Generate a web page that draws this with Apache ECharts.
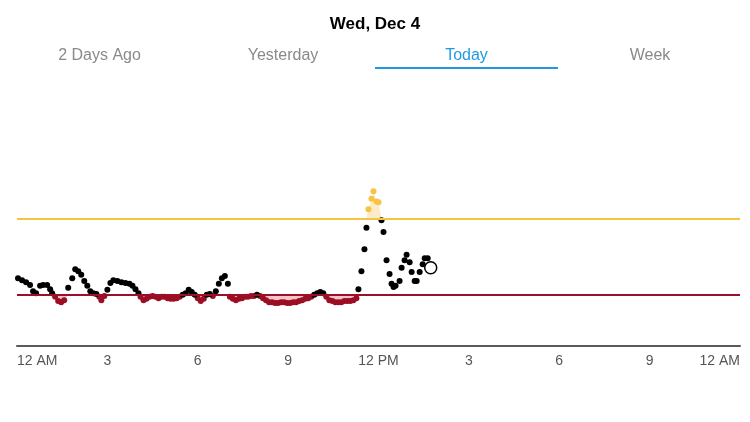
<!DOCTYPE html>
<html>
<head>
<meta charset="utf-8">
<script src="https://cdn.jsdelivr.net/npm/echarts@6/dist/echarts.min.js"></script>
<style>
  html, body { margin: 0; padding: 0; background: #fff; }
  #chart { width: 750px; height: 422px; }
</style>
</head>
<body>
<div id="chart"></div>
<script>
// readings: minutes since midnight and glucose value (mg/dL)
const minutes = [
  2, 10, 18, 26, 32, 38, 46, 52, 60, 66, 70, 76, 82, 88, 94, 102, 110, 116, 122, 128,
  134, 140, 146, 152, 158, 164, 168, 174, 180, 186, 192, 200, 208, 216, 224, 230, 236, 242,
  246, 252, 258, 264, 270, 276, 282, 288, 294, 300, 306, 312, 318, 324, 330, 336, 342, 348,
  354, 360, 366, 372, 378, 384, 390, 396, 402, 408, 414, 420,
  424, 430, 436, 442, 448, 454, 460, 466, 472, 478, 484, 490, 496, 502, 508, 514, 520, 526,
  532, 538, 544, 550, 556, 562, 568, 574, 580, 586, 592, 598, 604, 610, 616, 622, 628, 634,
  640, 646, 652, 658, 664, 670, 676,
  680, 686, 692, 696, 700, 706, 710, 716, 720, 726, 730, 736, 742, 746, 750, 754, 762, 766,
  772, 776, 782, 786, 792, 796, 802, 808, 812, 818
]
const glucose = [
  94, 91, 88, 84, 75, 72, 83, 84, 84, 78, 72, 67, 61, 59, 62, 80, 94, 107, 104, 99,
  90, 83, 75, 72, 71, 67, 62, 68, 77, 87, 91, 90, 88, 87, 86, 83, 78, 72,
  67, 62, 64, 67, 68, 67, 65, 67, 67, 65, 64, 64, 65, 67, 70, 72, 77, 74,
  70, 65, 61, 64, 70, 71, 68, 75, 86, 94, 97, 86,
  67, 64, 62, 64, 65, 67, 67, 68, 68, 70, 68, 65, 62, 59, 59, 58, 58, 59,
  59, 58, 58, 59, 59, 61, 62, 64, 65, 67, 70, 72, 74, 72, 67, 62, 61, 59,
  59, 59, 61, 61, 61, 62, 65,
  78, 104, 136, 167, 194, 209, 220, 205, 204, 178, 161, 120, 100, 86, 81, 83, 90, 109,
  120, 128, 117, 103, 90, 90, 103, 114, 123, 123
]
const currentReading = [824, 109]
const lowLimit = 70
const highLimit = 180
const tickLabels = ['12 AM', '3', '6', '9', '12 PM', '3', '6', '9', '12 AM']
const tabs = ['2 Days Ago', 'Yesterday', 'Today', 'Week']
const activeTab = 2
const dateTitle = 'Wed, Dec 4'

const readings = minutes.map((m, i) => [m, glucose[i]])
const lows = readings.filter(r => r[1] < lowLimit)
const normals = readings.filter(r => r[1] >= lowLimit && r[1] <= highLimit)
const highs = readings.filter(r => r[1] > highLimit)

const chart = echarts.init(document.getElementById('chart'))

chart.setOption({
  animation: false,
  title: {
    text: dateTitle,
    left: 'center',
    top: 11,
    textStyle: { fontSize: 17, fontWeight: 'bold', color: '#000', fontFamily: 'Liberation Sans' }
  },
  graphic: [
    {
      type: 'group',
      children: tabs.map((name, i) => ({
        type: 'text',
        x: 8 + i * 183.5 + 91.5,
        y: 48,
        style: {
          text: name,
          textAlign: 'center',
          fontSize: 16,
          fontFamily: 'Liberation Sans',
          fill: i === activeTab ? '#1f9ae0' : '#8a8a8a'
        }
      }))
    },
    {
      type: 'rect',
      shape: { x: 375, y: 67, width: 183, height: 2 },
      style: { fill: '#1f9ae0' }
    }
  ],
  grid: { left: 17, right: 10, top: 67, bottom: 79 },
  xAxis: {
    type: 'value',
    min: 0,
    max: 1440,
    interval: 180,
    offset: 3,
    axisLine: { show: true, onZero: false, lineStyle: { color: '#5a5a5a', width: 2 } },
    axisTick: { show: false },
    splitLine: { show: false },
    axisLabel: {
      color: '#555',
      fontSize: 14,
      fontFamily: 'Liberation Sans',
      margin: 8,
      alignMinLabel: 'left',
      alignMaxLabel: 'right',
      formatter: v => tickLabels[Math.round(v / 180)]
    }
  },
  yAxis: {
    type: 'value',
    min: 0,
    max: 400,
    show: false
  },
  series: [
    {
      type: 'line',
      data: readings.map(r => [r[0], Math.min(r[1], lowLimit)]),
      showSymbol: false,
      lineStyle: { width: 0, opacity: 0 },
      areaStyle: { color: '#f6c3cb', origin: lowLimit, opacity: 1 },
      z: 1
    },
    {
      type: 'line',
      data: readings.map(r => [r[0], Math.max(r[1], highLimit)]),
      showSymbol: false,
      lineStyle: { width: 0, opacity: 0 },
      areaStyle: { color: '#fcebc4', origin: highLimit, opacity: 1 },
      z: 1
    },
    {
      type: 'line',
      data: [],
      markLine: {
        silent: true,
        symbol: 'none',
        label: { show: false },
        data: [
          { yAxis: lowLimit, lineStyle: { color: '#9b1026', width: 2, type: 'solid' } },
          { yAxis: highLimit, lineStyle: { color: '#f5c443', width: 2, type: 'solid' } }
        ]
      },
      z: 2
    },
    {
      type: 'scatter',
      data: lows,
      symbolSize: 6,
      itemStyle: { color: '#9b0e23', opacity: 1 },
      z: 3
    },
    {
      type: 'scatter',
      data: normals,
      symbolSize: 6,
      itemStyle: { color: '#000', opacity: 1 },
      z: 3
    },
    {
      type: 'scatter',
      data: highs,
      symbolSize: 6,
      itemStyle: { color: '#f6c343', opacity: 1 },
      z: 3
    },
    {
      type: 'scatter',
      data: [currentReading],
      symbolSize: 12,
      itemStyle: { color: '#fff', borderColor: '#000', borderWidth: 1.5, opacity: 1 },
      z: 4
    }
  ]
})
</script>
</body>
</html>
